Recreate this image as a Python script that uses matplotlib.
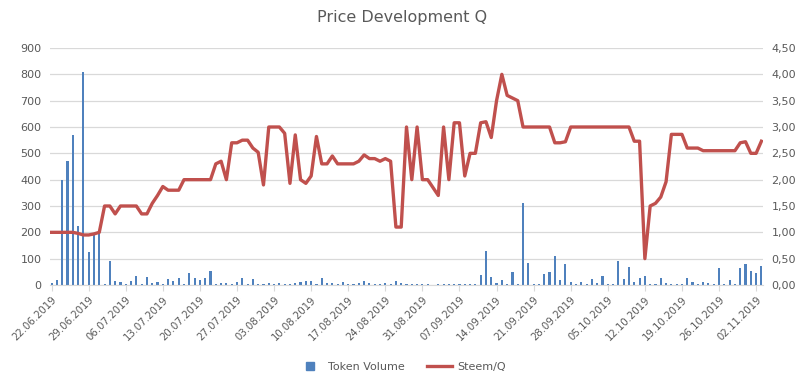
import numpy as np
import pandas as pd
import matplotlib
matplotlib.use("Agg")
import matplotlib.pyplot as plt
from matplotlib.lines import Line2D

######################################################
# DATA

dates = pd.date_range("2019-06-22", periods=135, freq="D")

token_volume = [
    8, 20, 400, 470, 570, 225, 810, 125, 188, 198,
    3, 92, 16, 12, 4, 16, 34, 4, 30, 9,
    12, 4, 22, 15, 25, 4, 47, 27, 20, 26,
    53, 3, 7, 7, 3, 10, 28, 3, 23, 3,
    3, 9, 3, 6, 3, 3, 6, 10, 16, 16,
    3, 28, 9, 9, 3, 10, 3, 3, 9, 16,
    9, 3, 3, 6, 3, 16, 6, 3, 3, 3,
    3, 3, 0, 3, 3, 3, 3, 3, 3, 3,
    3, 38, 130, 32, 9, 19, 3, 49, 3, 310,
    84, 3, 3, 41, 50, 110, 19, 80, 10, 3,
    10, 3, 23, 9, 34, 3, 3, 91, 23, 68,
    10, 28, 34, 3, 3, 28, 9, 3, 3, 3,
    28, 11, 3, 10, 6, 3, 65, 3, 19, 3,
    65, 80, 54, 47, 72,
]

steem_q = [
    1.00, 1.00, 1.00, 1.00, 1.00, 0.98, 0.95, 0.95, 0.97, 1.00,
    1.50, 1.50, 1.35, 1.50, 1.50, 1.50, 1.50, 1.35, 1.35, 1.55,
    1.70, 1.87, 1.80, 1.80, 1.80, 2.00, 2.00, 2.00, 2.00, 2.00,
    2.00, 2.30, 2.35, 2.00, 2.70, 2.70, 2.75, 2.75, 2.60, 2.52,
    1.90, 3.00, 3.00, 3.00, 2.88, 1.93, 2.85, 2.00, 1.93, 2.07,
    2.82, 2.30, 2.30, 2.45, 2.30, 2.30, 2.30, 2.30, 2.35, 2.47,
    2.40, 2.40, 2.35, 2.40, 2.35, 1.10, 1.10, 3.00, 2.00, 3.00,
    2.00, 2.00, 1.85, 1.70, 3.00, 2.00, 3.08, 3.08, 2.07, 2.50,
    2.50, 3.08, 3.10, 2.80, 3.50, 4.00, 3.60, 3.55, 3.50, 3.00,
    3.00, 3.00, 3.00, 3.00, 3.00, 2.70, 2.70, 2.72, 3.00, 3.00,
    3.00, 3.00, 3.00, 3.00, 3.00, 3.00, 3.00, 3.00, 3.00, 3.00,
    2.73, 2.73, 0.50, 1.50, 1.55, 1.67, 1.96, 2.86, 2.86, 2.86,
    2.60, 2.60, 2.60, 2.55, 2.55, 2.55, 2.55, 2.55, 2.55, 2.55,
    2.70, 2.72, 2.50, 2.50, 2.73,
]

left_ticks = list(range(0, 901, 100))
right_ticks = [0, 0.5, 1.0, 1.5, 2.0, 2.5, 3.0, 3.5, 4.0, 4.5]

######################################################
# PLOT

text_col = "#595959"
grid_col = "#d9d9d9"
bar_col = "#4f81bd"
line_col = "#c0504d"

fig = plt.figure(figsize=(8.04, 3.82), dpi=100)
ax1 = fig.add_axes([50 / 804, 1 - 285 / 382, 713 / 804, 237 / 382])
ax2 = ax1.twinx()

x = np.arange(len(dates))
ax1.bar(x, token_volume, width=0.4, color=bar_col, zorder=2)
ax2.plot(x, steem_q, color=line_col, linewidth=2.4, zorder=3)

ax1.set_xlim(-0.3, len(dates) - 0.7)
ax1.set_ylim(0, 900)
ax2.set_ylim(0, 4.5)

ax1.set_yticks(left_ticks)
ax2.set_yticks(right_ticks)
ax2.set_yticklabels([f"{v:.2f}".replace(".", ",") for v in right_ticks])

ax1.yaxis.grid(True, color=grid_col, linewidth=0.9, zorder=0)
ax1.set_axisbelow(True)

ax1.set_xticks(x[::7])
ax1.set_xticklabels([d.strftime("%d.%m.%Y") for d in dates[::7]],
                    rotation=45, ha="right", rotation_mode="anchor")

for ax in (ax1, ax2):
    for s in ax.spines.values():
        s.set_visible(False)
    ax.tick_params(axis="y", length=0, labelsize=8, labelcolor=text_col, pad=6)
ax1.spines["bottom"].set_visible(True)
ax1.spines["bottom"].set_color(grid_col)
ax1.tick_params(axis="x", length=4, color=grid_col, labelsize=7.3,
                labelcolor=text_col, pad=3)

fig.suptitle("Price Development Q", x=0.5, y=0.975, fontsize=11.5, color=text_col)

# legend
handles = [
    Line2D([], [], marker="s", linestyle="none", color=bar_col, markersize=6),
    Line2D([], [], color=line_col, linewidth=2.4),
]
fig.legend(handles, ["Token Volume", "Steem/Q"], loc="lower center",
           bbox_to_anchor=(0.5, 0.0), ncol=2, frameon=False, fontsize=8,
           labelcolor=text_col, handlelength=2.2, columnspacing=2.0,
           handletextpad=0.5)

fig.savefig("out.png", dpi=100)
